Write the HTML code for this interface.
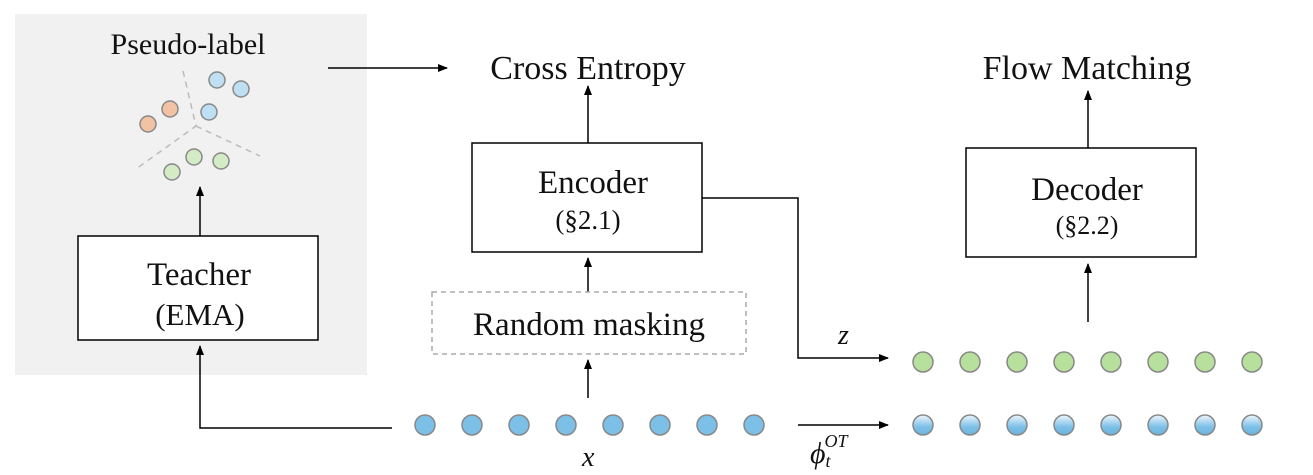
<!DOCTYPE html>
<html><head><style>body{margin:0;background:#fff}svg text{font-family:"Liberation Serif",serif;fill:#111}</style></head><body>
<svg width="1313" height="470" viewBox="0 0 1313 470" xmlns="http://www.w3.org/2000/svg">
<defs>
<marker id="a" markerWidth="10" markerHeight="8" refX="9" refY="4" orient="auto" markerUnits="userSpaceOnUse"><path d="M0,0L10,4L0,8z" fill="#000"/></marker>
<linearGradient id="g" x1="0" y1="0" x2="0" y2="1"><stop offset="0" stop-color="#eef6fc"/><stop offset="0.6" stop-color="#7cc0e8"/><stop offset="1" stop-color="#6ab4e0"/></linearGradient>
</defs>
<rect x="15" y="14" width="352" height="361" fill="#f1f1f1"/>
<text x="188" y="54" font-size="30" text-anchor="middle">Pseudo-label</text>
<g stroke="#bbb" stroke-width="1.5" stroke-dasharray="6,5" fill="none">
<path d="M183,71 L196,126 L136,169"/><path d="M196,126 L260,156"/></g>
<g stroke="#888" stroke-width="1.5">
<circle cx="217" cy="80" r="8" fill="#bfe0f3"/><circle cx="241" cy="89" r="8" fill="#bfe0f3"/><circle cx="209" cy="112" r="8" fill="#bfe0f3"/>
<circle cx="170" cy="109" r="8" fill="#f2c2a5"/><circle cx="148" cy="124" r="8" fill="#f2c2a5"/>
<circle cx="194" cy="157" r="8" fill="#d4ecc6"/><circle cx="221" cy="161" r="8" fill="#d4ecc6"/><circle cx="172" cy="172" r="8" fill="#d4ecc6"/>
</g>
<g stroke="#000" stroke-width="1.5" fill="none" marker-end="url(#a)">
<path d="M328,68H447"/><path d="M200,236V187"/><path d="M392,428H200V346"/>
<path d="M588,143V86"/><path d="M588,292V258"/><path d="M588,398V360"/>
<path d="M702,198H798V358H888"/><path d="M798,425H888"/>
<path d="M1088,322V264"/><path d="M1088,148V91"/>
</g>
<g fill="#fff" stroke="#000" stroke-width="1.5">
<rect x="78" y="236" width="240" height="104"/><rect x="472" y="143" width="230" height="109"/><rect x="966" y="148" width="230" height="109"/></g>
<rect x="432" y="292" width="314" height="62" fill="#fff" stroke="#aaa" stroke-width="1.5" stroke-dasharray="5,4"/>
<text x="199" y="285" font-size="33" text-anchor="middle">Teacher</text>
<text x="200" y="325" font-size="31" text-anchor="middle">(EMA)</text>
<text x="593" y="193" font-size="33" text-anchor="middle">Encoder</text>
<text x="588" y="229" font-size="27" text-anchor="middle">(§2.1)</text>
<text x="1087" y="200" font-size="33" text-anchor="middle">Decoder</text>
<text x="1087" y="234" font-size="26" text-anchor="middle">(§2.2)</text>
<text x="589" y="335" font-size="33" text-anchor="middle">Random masking</text>
<text x="588" y="79" font-size="34" text-anchor="middle">Cross Entropy</text>
<text x="1087" y="79" font-size="34" text-anchor="middle">Flow Matching</text>
<text x="838" y="344" font-size="28" font-style="italic">z</text>
<text x="582" y="466" font-size="28" font-style="italic">x</text>
<text x="810" y="463" font-size="30" font-style="italic">ϕ<tspan font-size="18" dy="4">t</tspan><tspan font-size="18" dx="-6" dy="-20">OT</tspan></text>
<g stroke="#888" stroke-width="1.5">
<g fill="#7cc0e8"><circle cx="425" cy="425" r="10"/><circle cx="472" cy="425" r="10"/><circle cx="519" cy="425" r="10"/><circle cx="566" cy="425" r="10"/><circle cx="613" cy="425" r="10"/><circle cx="660" cy="425" r="10"/><circle cx="707" cy="425" r="10"/><circle cx="754" cy="425" r="10"/></g>
<g fill="#b7e09c"><circle cx="923" cy="362" r="10"/><circle cx="970" cy="362" r="10"/><circle cx="1017" cy="362" r="10"/><circle cx="1064" cy="362" r="10"/><circle cx="1111" cy="362" r="10"/><circle cx="1158" cy="362" r="10"/><circle cx="1205" cy="362" r="10"/><circle cx="1252" cy="362" r="10"/></g>
<g fill="url(#g)"><circle cx="923" cy="425" r="10"/><circle cx="970" cy="425" r="10"/><circle cx="1017" cy="425" r="10"/><circle cx="1064" cy="425" r="10"/><circle cx="1111" cy="425" r="10"/><circle cx="1158" cy="425" r="10"/><circle cx="1205" cy="425" r="10"/><circle cx="1252" cy="425" r="10"/></g>
</g>
</svg>
</body></html>
